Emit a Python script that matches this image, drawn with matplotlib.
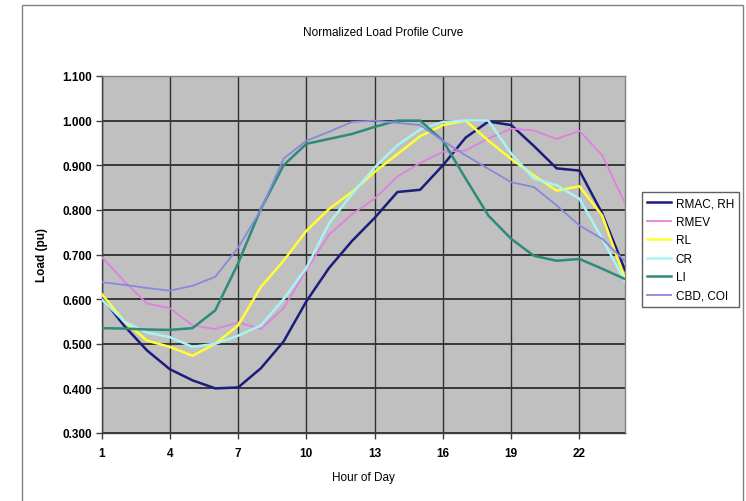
import matplotlib
matplotlib.use('Agg')
import matplotlib.pyplot as plt
from matplotlib.patches import Rectangle

# Hourly normalized load per customer class
hours = list(range(1, 25))
rmac_rh = [0.605, 0.540, 0.485, 0.443, 0.418, 0.400, 0.402, 0.445, 0.505, 0.595,
           0.670, 0.730, 0.782, 0.840, 0.845, 0.900, 0.962, 0.998, 0.990, 0.943,
           0.893, 0.888, 0.792, 0.665]
rmev = [0.695, 0.640, 0.590, 0.580, 0.541, 0.533, 0.548, 0.533, 0.580, 0.665,
        0.745, 0.790, 0.825, 0.875, 0.905, 0.930, 0.933, 0.960, 0.982, 0.978,
        0.959, 0.977, 0.922, 0.815]
rl = [0.612, 0.550, 0.507, 0.493, 0.473, 0.500, 0.541, 0.627, 0.686, 0.753,
      0.802, 0.840, 0.885, 0.925, 0.965, 0.990, 1.000, 0.955, 0.914, 0.877,
      0.843, 0.853, 0.787, 0.645]
cr = [0.600, 0.550, 0.525, 0.515, 0.493, 0.500, 0.518, 0.541, 0.600, 0.670,
      0.770, 0.835, 0.895, 0.945, 0.980, 0.997, 1.000, 1.000, 0.926, 0.870,
      0.855, 0.825, 0.735, 0.640]
li = [0.535, 0.534, 0.532, 0.531, 0.535, 0.575, 0.680, 0.802, 0.900, 0.948,
      0.959, 0.970, 0.986, 1.000, 1.000, 0.955, 0.870, 0.787, 0.735, 0.697,
      0.686, 0.690, 0.668, 0.645]
cbd_coi = [0.638, 0.632, 0.625, 0.619, 0.630, 0.650, 0.715, 0.800, 0.915, 0.955,
           0.975, 0.997, 1.000, 0.995, 0.990, 0.955, 0.922, 0.892, 0.862, 0.851,
           0.810, 0.765, 0.735, 0.685]

series = [
    ('RMAC, RH', rmac_rh, '#1c1c7c', 1.8),
    ('RMEV', rmev, '#e080e0', 1.3),
    ('RL', rl, '#ffff33', 1.8),
    ('CR', cr, '#a8f4f4', 1.8),
    ('LI', li, '#2e8b7a', 1.8),
    ('CBD, COI', cbd_coi, '#8888dd', 1.3),
]

plt.rcParams['font.family'] = ['Liberation Sans', 'DejaVu Sans']

fig = plt.figure(figsize=(7.46, 5.02), dpi=100)
ax = fig.add_axes([101.5 / 746, 68 / 502, 523.5 / 746, 357 / 502])
ax.set_facecolor('#c0c0c0')

for label, vals, color, lw in series:
    ax.plot(hours, vals, color=color, lw=lw, label=label, zorder=3)

ax.set_xlim(1, 24)
ax.set_ylim(0.3, 1.1)
ax.set_xticks(range(1, 24, 3))
ax.set_yticks([0.3 + 0.1 * i for i in range(9)])
ax.set_yticklabels(['%.3f' % (0.3 + 0.1 * i) for i in range(9)])
ax.grid(True, axis='x', color='#303030', lw=1.0, zorder=1)
ax.grid(True, axis='y', color='#383838', lw=1.4, zorder=1)
ax.tick_params(direction='out', length=4, width=1, color='#404040',
               labelsize=8.5, pad=3)
for t in ax.get_xticklabels() + ax.get_yticklabels():
    t.set_fontweight('bold')
ax.tick_params(axis='x', pad=6)
for s in ax.spines.values():
    s.set_color('#808080')
    s.set_linewidth(1)
ax.spines['left'].set_color('#404040')
ax.spines['bottom'].set_color('#404040')

ax.set_xlabel('Hour of Day', fontsize=8.5, labelpad=9)
ax.set_ylabel('Load (pu)', fontsize=8.5, fontweight='bold', labelpad=10)
fig.text(383 / 746, 1 - 33 / 502, 'Normalized Load Profile Curve',
         ha='center', va='center', fontsize=8.5)

leg = ax.legend(loc='upper left', bbox_to_anchor=(642 / 746, 1 - 193 / 502),
                bbox_transform=fig.transFigure, fontsize=8.5, frameon=True,
                fancybox=False, edgecolor='#606060', framealpha=1,
                handlelength=2.0, handletextpad=0.4, labelspacing=0.55,
                borderpad=0.45, borderaxespad=0)
leg.get_frame().set_linewidth(1)

# outer chart border
fig.patches.append(Rectangle((22 / 746, -0.02), 721 / 746, 1 - 6 / 502 + 0.02,
                             transform=fig.transFigure, fill=False,
                             edgecolor='#808080', lw=1))

fig.savefig('out.png', dpi=100)
